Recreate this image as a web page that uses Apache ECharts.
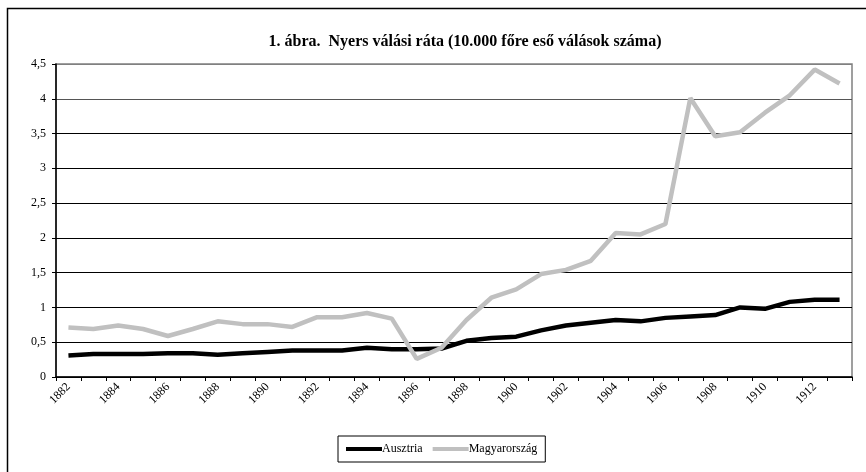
<!DOCTYPE html>
<html>
<head>
<meta charset="utf-8">
<script src="https://cdn.jsdelivr.net/npm/echarts@6/dist/echarts.min.js"></script>
<style>
    html, body { margin: 0; padding: 0; background: #fff; }
    #chart { width: 866px; height: 472px; }
</style>
</head>
<body>
<div id="chart"></div>
<script>
// 数据
var years = [];
for (var y = 1882; y <= 1913; y++) { years.push(String(y)); }
var ausztria = [0.31, 0.33, 0.33, 0.33, 0.34, 0.34, 0.32, 0.34, 0.36, 0.38,
    0.38, 0.38, 0.42, 0.40, 0.40, 0.41, 0.52, 0.56, 0.58, 0.67,
    0.74, 0.78, 0.82, 0.80, 0.85, 0.87, 0.89, 1.00, 0.98, 1.08,
    1.11, 1.11];
var magyarorszag = [0.71, 0.69, 0.74, 0.69, 0.59, 0.69, 0.80, 0.76, 0.76, 0.72,
    0.86, 0.86, 0.92, 0.84, 0.26, 0.42, 0.82, 1.14, 1.26, 1.48,
    1.54, 1.67, 2.07, 2.05, 2.20, 4.01, 3.46, 3.52, 3.80, 4.05,
    4.42, 4.22];

var serif = '"Liberation Serif", "DejaVu Serif", serif';

var myChart = echarts.init(document.getElementById("chart"));
myChart.setOption({
    animation: false,
    graphic: [{ //外框
        type: 'rect',
        shape: { x: 7.5, y: 8.5, width: 1000, height: 1000 },
        style: { fill: 'none', stroke: '#000', lineWidth: 1.5 }
    }],
    title: {
        text: '1. ábra.  Nyers válási ráta (10.000 főre eső válások száma)',
        left: 460,
        top: 29,
        textAlign: 'center',
        textStyle: { fontFamily: serif, fontSize: 16, fontWeight: 'bold', color: '#000' }
    },
    grid: { //绘图区
        left: 56,
        right: 14,
        top: 64,
        bottom: 95,
        show: true,
        borderColor: '#808080',
        borderWidth: 1.5
    },
    legend: {
        left: 338,
        top: 436,
        width: 216,
        height: 30,
        padding: [7, 8, 7, 8],
        itemGap: 10,
        itemWidth: 36,
        itemHeight: 4,
        borderColor: '#000',
        borderWidth: 1,
        textStyle: { fontFamily: serif, fontSize: 12, color: '#000', padding: [0, 0, 0, -5] },
        data: [
            { name: 'Ausztria', icon: 'rect' },
            { name: 'Magyarország', icon: 'rect' }
        ]
    },
    xAxis: {
        type: 'category',
        data: years,
        boundaryGap: true,
        axisLine: { lineStyle: { color: '#000', width: 1.5 } },
        axisTick: { show: true, interval: 0, length: 4, inside: false, lineStyle: { color: '#000' } },
        axisLabel: {
            interval: 1,
            rotate: 45,
            margin: 8,
            fontFamily: serif,
            fontSize: 12,
            color: '#000'
        }
    },
    yAxis: {
        type: 'value',
        min: 0,
        max: 4.5,
        interval: 0.5,
        axisLine: { show: true, lineStyle: { color: '#000', width: 1.5 } },
        axisTick: { show: true, length: 4, lineStyle: { color: '#000' } },
        axisLabel: {
            margin: 10,
            fontFamily: serif,
            fontSize: 12,
            color: '#000',
            formatter: function (v) { return String(v).replace('.', ','); }
        },
        splitLine: {
            show: true,
            lineStyle: {
                color: ['#000', '#000', '#000', '#000', '#000', '#000', '#000', '#000', '#555', '#808080'],
                width: 1
            }
        }
    },
    series: [{
        name: 'Ausztria',
        type: 'line',
        data: ausztria,
        symbol: 'none',
        color: '#000',
        lineStyle: { color: '#000', width: 4.5 }
    }, {
        name: 'Magyarország',
        type: 'line',
        data: magyarorszag,
        symbol: 'none',
        color: '#c0c0c0',
        lineStyle: { color: '#c0c0c0', width: 4.5 }
    }]
});
</script>
</body>
</html>
